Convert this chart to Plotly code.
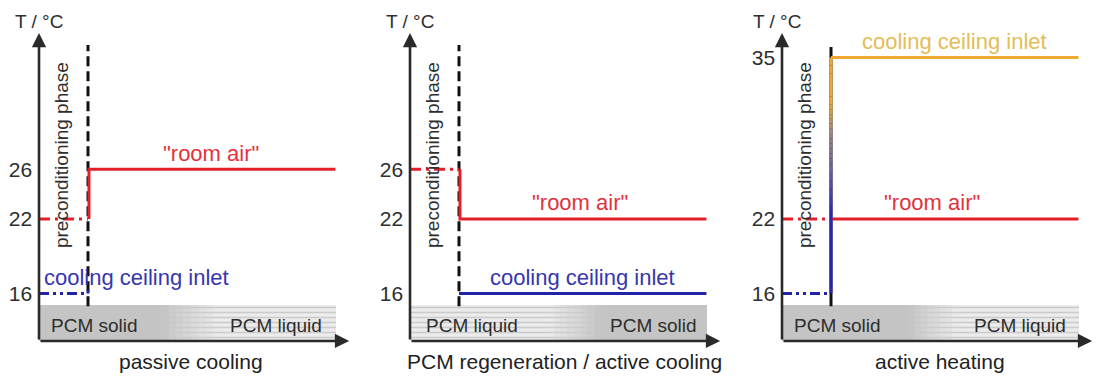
import plotly.graph_objects as go

# ---------------- data ----------------
panel_titles = ["passive cooling", "PCM regeneration / active cooling", "active heating"]
temp_ticks = [[16, 22, 26], [16, 22, 26], [16, 22, 35]]
room_air_pre = [22, 26, 22]      # room air during preconditioning
room_air_main = [26, 22, 22]     # room air after switching
inlet_pre = [16, None, 16]       # cooling ceiling inlet during preconditioning
inlet_main = [None, 16, 35]      # cooling ceiling inlet after switching
pcm_left = ["PCM solid", "PCM liquid", "PCM solid"]
pcm_right = ["PCM liquid", "PCM solid", "PCM liquid"]
t_start, t_switch, t_end = 0.0, 1.0, 6.05

# ---------------- layout constants ----------------
W, H = 1097, 376
PX_T = 49.0
axis_px = [39, 410, 782]
X_RANGE = [-0.1, 6.4]
Y_RANGE = [9.36, 39.63]
T_AX_BOT, T_AX_TOP = 12.18, 36.97
T_BAND_TOP = 15.07
t_arrow = 6.33

FONT = "Liberation Sans, Arial, sans-serif"
RED, BLUE, ORANGE = "#e3202a", "#2323a8", "#efa92e"
RED_TXT, BLUE_TXT, ORANGE_TXT = "#e0343c", "#3636ae", "#e3bd58"
DARK = "#2a2a2a"

# band transition regions (solid <-> liquid) per panel
band_trans = [(2.5, 3.7), (2.8, 3.9), (2.6, 3.6)]

fig = go.Figure()
annotations = []


def hexmix(c1, c2, f):
    a = [int(c1[i:i + 2], 16) for i in (1, 3, 5)]
    b = [int(c2[i:i + 2], 16) for i in (1, 3, 5)]
    return "#" + "".join(f"{round(a[k] + (b[k] - a[k]) * f):02x}" for k in range(3))


SOLID_BG, LIQ_BG, WAVE = "#c4c4c4", "#ececec", "#a9a9a9"

for i in range(3):
    xa = "x" if i == 0 else f"x{i + 1}"
    ya = "y" if i == 0 else f"y{i + 1}"
    left = (axis_px[i] + X_RANGE[0] * PX_T) / W
    right = (axis_px[i] + X_RANGE[1] * PX_T) / W
    lay_x = "xaxis" if i == 0 else f"xaxis{i + 1}"
    lay_y = "yaxis" if i == 0 else f"yaxis{i + 1}"
    fig.layout[lay_x] = dict(domain=[left, right], range=X_RANGE, visible=False,
                             anchor=ya, fixedrange=True)
    fig.layout[lay_y] = dict(domain=[0, 1], range=Y_RANGE, anchor=xa,
                             showgrid=False, zeroline=False, showline=False, ticks="",
                             tickvals=temp_ticks[i], ticktext=[str(v) for v in temp_ticks[i]],
                             tickfont=dict(family=FONT, size=21, color="#2e2e2e"),
                             ticklabelstandoff=1, fixedrange=True)

    # ---- PCM band ----
    ta, tb = band_trans[i]
    left_solid = pcm_left[i] == "PCM solid"
    segs = []
    segs.append((t_start, ta, 0.0 if left_solid else 1.0))
    nstep = 8
    for k in range(nstep):
        a = ta + (tb - ta) * k / nstep
        b = ta + (tb - ta) * (k + 1) / nstep
        f = (k + 0.5) / nstep
        segs.append((a, b, f if left_solid else 1 - f))
    segs.append((tb, t_end, 1.0 if left_solid else 0.0))
    for (a, b, liq) in segs:
        bg = hexmix(SOLID_BG, LIQ_BG, liq)
        fg = hexmix(bg, WAVE, liq)
        fig.add_trace(go.Bar(
            x=[(a + b) / 2], y=[T_BAND_TOP - T_AX_BOT], base=[T_AX_BOT], width=[b - a + 0.01],
            xaxis=xa, yaxis=ya, showlegend=False, hoverinfo="skip",
            marker=dict(color=bg, line=dict(width=0),
                        pattern=dict(shape="-", fgcolor=fg, bgcolor=bg, size=5, solidity=0.3)),
        ))

    # ---- switching line ----
    fig.add_trace(go.Scatter(
        x=[t_switch, t_switch], y=[T_BAND_TOP - 0.1, 36.0 if i < 2 else 35.85],
        mode="lines", xaxis=xa, yaxis=ya, showlegend=False, hoverinfo="skip",
        line=dict(color="#111111", width=3, dash="10px,5px" if i < 2 else "solid")))

    # ---- room air ----
    fig.add_trace(go.Scatter(
        x=[t_start, t_switch], y=[room_air_pre[i], room_air_pre[i]], mode="lines",
        xaxis=xa, yaxis=ya, showlegend=False, hoverinfo="skip",
        line=dict(color=RED, width=3, dash="11px,5px,3px,5px")))
    fig.add_trace(go.Scatter(
        x=[t_switch + 0.02, t_switch + 0.02, t_end],
        y=[room_air_pre[i], room_air_main[i], room_air_main[i]],
        mode="lines", xaxis=xa, yaxis=ya, showlegend=False, hoverinfo="skip",
        line=dict(color=RED, width=3)))

    # ---- cooling ceiling inlet ----
    if inlet_pre[i] is not None:
        fig.add_trace(go.Scatter(
            x=[t_start, t_switch], y=[inlet_pre[i], inlet_pre[i]], mode="lines",
            xaxis=xa, yaxis=ya, showlegend=False, hoverinfo="skip",
            line=dict(color=BLUE, width=3, dash="10px,4px,3px,4px,3px,4px")))
    if inlet_pre[i] is None:
        fig.add_trace(go.Scatter(
            x=[t_switch, t_end], y=[inlet_main[i], inlet_main[i]], mode="lines",
            xaxis=xa, yaxis=ya, showlegend=False, hoverinfo="skip",
            line=dict(color=BLUE, width=3)))
    elif inlet_main[i] is None:
        fig.add_trace(go.Scatter(
            x=[t_switch, t_switch], y=[inlet_pre[i], inlet_pre[i] + 0.3], mode="lines",
            xaxis=xa, yaxis=ya, showlegend=False, hoverinfo="skip",
            line=dict(color=BLUE, width=3)))
    else:
        lo, hi = inlet_pre[i], inlet_main[i]
        # colour gradient along the vertical step (fractions of the step height)
        stops = [(0.0, "#2424b0"), (0.34, "#2828b4"), (0.55, "#76669e"),
                 (0.68, "#a08680"), (0.80, "#e8a838"), (1.0, ORANGE)]
        for s in range(len(stops) - 1):
            f0, c0 = stops[s]
            f1, c1 = stops[s + 1]
            n = 6
            for k in range(n):
                fa = f0 + (f1 - f0) * k / n
                fb = f0 + (f1 - f0) * (k + 1) / n
                col = hexmix(c0, c1, (k + 0.5) / n)
                fig.add_trace(go.Scatter(
                    x=[t_switch, t_switch], y=[lo + (hi - lo) * fa, lo + (hi - lo) * fb],
                    mode="lines", xaxis=xa, yaxis=ya, showlegend=False, hoverinfo="skip",
                    line=dict(color=col, width=3)))
        fig.add_trace(go.Scatter(
            x=[t_switch, t_end], y=[hi, hi], mode="lines",
            xaxis=xa, yaxis=ya, showlegend=False, hoverinfo="skip",
            line=dict(color=ORANGE, width=3)))

    # ---- axes arrows ----
    annotations.append(dict(x=0, y=T_AX_TOP, ax=0, ay=T_AX_BOT, xref=xa, yref=ya,
                            axref=xa, ayref=ya, text="", showarrow=True, arrowhead=2,
                            arrowsize=1.1, arrowwidth=2.6, arrowcolor=DARK, standoff=0))
    annotations.append(dict(x=t_arrow, y=T_AX_BOT, ax=0, ay=T_AX_BOT, xref=xa, yref=ya,
                            axref=xa, ayref=ya, text="", showarrow=True, arrowhead=2,
                            arrowsize=1.1, arrowwidth=2.6, arrowcolor=DARK, standoff=0))

    def txt(x, y, s, color="#2e2e2e", size=19, angle=0, xanchor="center"):
        annotations.append(dict(x=x, y=y, xref=xa, yref=ya, text=s, showarrow=False,
                                textangle=angle, xanchor=xanchor, yanchor="middle",
                                font=dict(family=FONT, size=size, color=color)))

    txt(0.0 if i < 2 else -0.1, 37.86, "T / °C", size=19)
    txt(6.45, 12.05, "t", size=20, xanchor="left")
    txt(0.45, 27.15, "preconditioning phase", angle=-90, size=19)
    txt([1.14, 1.27, 1.14][i], 13.45, pcm_left[i], size=19)
    txt([4.84, 4.96, 4.86][i], 13.45, pcm_right[i], size=19)
    txt([3.1, 3.15, 3.22][i], 10.5, panel_titles[i], size=21, color="#222222")
    room_y = room_air_main[i] + 1.3
    txt([3.51, 3.47, 3.06][i], room_y, "\"room air\"", color=RED_TXT, size=22)
    if i < 2:
        txt([1.98, 3.53][i], 17.33, "cooling ceiling inlet", color=BLUE_TXT, size=22)
    else:
        txt(3.53, 36.25, "cooling ceiling inlet", color=ORANGE_TXT, size=22)

fig.update_layout(
    width=W, height=H, margin=dict(l=0, r=0, t=0, b=0),
    paper_bgcolor="white", plot_bgcolor="rgba(0,0,0,0)",
    barmode="overlay", bargap=0, showlegend=False,
    annotations=annotations,
)

fig.write_html("out.html", config={"displayModeBar": False})
